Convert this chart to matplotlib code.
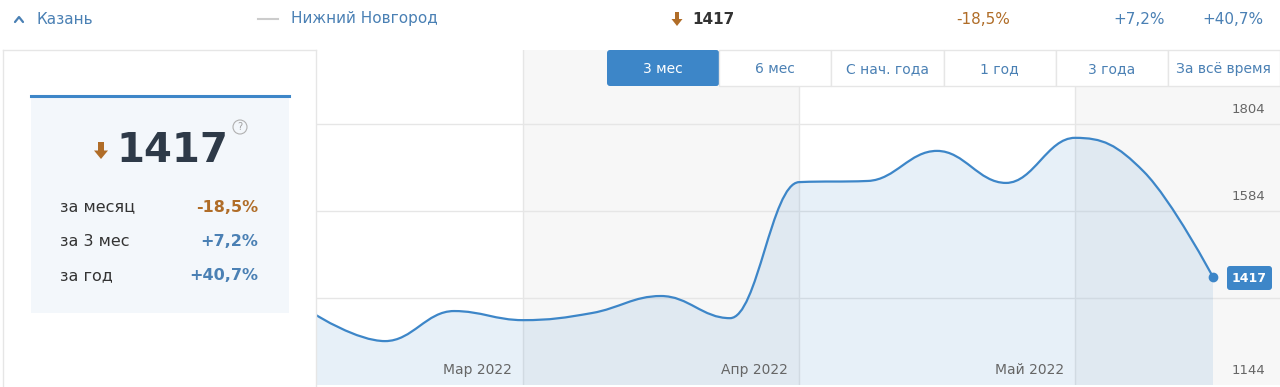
import numpy as np
import matplotlib
matplotlib.use('Agg')
import matplotlib.pyplot as plt
from matplotlib.path import Path
from matplotlib.patches import PathPatch, Rectangle, FancyBboxPatch, Polygon, Circle

plt.rcParams['font.family'] = ['DejaVu Sans']

# data: points are placed four per month, month labels at index of month start
values = [1321, 1255, 1331, 1308, 1326, 1369, 1313, 1657, 1660, 1736, 1655, 1769, 1683, 1417]
month_starts = [3, 7, 11]
month_labels = ['Мар 2022', 'Апр 2022', 'Май 2022']
y_ticks = [1144, 1364, 1584, 1804]
y_tick_labels = ['1144', '', '1584', '1804']

current = '1417'
stat_names = ['за месяц', 'за 3 мес', 'за год']
stat_values = ['-18,5%', '+7,2%', '+40,7%']
buttons = ['3 мес', '6 мес', 'С нач. года', '1 год', '3 года', 'За всё время']

BLUE = '#3d86c8'
TEXT_BLUE = '#4a80b4'
BROWN = '#b06d28'
DARK = '#2e3a48'
GRID = '#e6e6e6'


def spline_path(xs, ys, smoothing=1.5):
    # highcharts-like spline: cubic bezier with control points per point
    n = len(xs)
    denom = smoothing + 1
    left = [(xs[i], ys[i]) for i in range(n)]
    right = [(xs[i], ys[i]) for i in range(n)]
    for i in range(1, n - 1):
        px, py = xs[i], ys[i]
        lx, ly = xs[i - 1], ys[i - 1]
        nx, ny = xs[i + 1], ys[i + 1]
        lcx = (smoothing * px + lx) / denom
        lcy = (smoothing * py + ly) / denom
        rcx = (smoothing * px + nx) / denom
        rcy = (smoothing * py + ny) / denom
        if rcx != lcx:
            corr = ((rcy - lcy) * (rcx - px)) / (rcx - lcx) + py - rcy
            lcy += corr
            rcy += corr
        if lcy > ly and lcy > py:
            lcy = max(ly, py); rcy = 2 * py - lcy
        elif lcy < ly and lcy < py:
            lcy = min(ly, py); rcy = 2 * py - lcy
        if rcy > ny and rcy > py:
            rcy = max(ny, py); lcy = 2 * py - rcy
        elif rcy < ny and rcy < py:
            rcy = min(ny, py); lcy = 2 * py - rcy
        left[i] = (lcx, lcy)
        right[i] = (rcx, rcy)
    verts = [(xs[0], ys[0])]
    codes = [Path.MOVETO]
    for i in range(1, n):
        verts += [right[i - 1], left[i], (xs[i], ys[i])]
        codes += [Path.CURVE4] * 3
    return verts, codes


W, H = 1280, 387
fig = plt.figure(figsize=(W / 100, H / 100), dpi=100)
fig.patch.set_facecolor('white')

###########################################################################
# chart
###########################################################################
ymin = 1144
ymax = ymin + (385 - 50) * 220 / 87
xmax = (W - 316) / 69
ax = fig.add_axes([316 / W, (H - 385) / H, (W - 316) / W, (385 - 50) / H])
ax.set_xlim(0, xmax)
ax.set_ylim(ymin, ymax)
ax.set_facecolor('white')
for s in ax.spines.values():
    s.set_visible(False)
ax.set_xticks([])
ax.set_yticks([])

ax.axvspan(month_starts[0], month_starts[1], color='#f7f7f7', lw=0, zorder=0)
ax.axvspan(month_starts[2], xmax, color='#f7f7f7', lw=0, zorder=0)
for m in month_starts:
    ax.axvline(m, color=GRID, lw=1, zorder=1)
for t in y_ticks[1:]:
    ax.axhline(t, color=GRID, lw=1, zorder=1)

xs = list(range(len(values)))
verts, codes = spline_path(xs, values)
fill_verts = verts + [(xs[-1], ymin - 50), (xs[0], ymin - 50), verts[0]]
fill_codes = codes + [Path.LINETO, Path.LINETO, Path.CLOSEPOLY]
ax.add_patch(PathPatch(Path(fill_verts, fill_codes), facecolor=BLUE, alpha=0.12, lw=0, zorder=2))
ax.add_patch(PathPatch(Path(verts, codes), facecolor='none', edgecolor=BLUE, lw=1.6, zorder=3,
                       capstyle='round', joinstyle='round'))
ax.plot(xs[-1], values[-1], 'o', color=BLUE, ms=6, zorder=4)

ytr = ax.get_yaxis_transform()
for t, lab in zip(y_ticks, y_tick_labels):
    if lab:
        ax.text((1265 - 316) / (W - 316), t + 15 * 220 / 87, lab, transform=ytr,
                ha='right', va='center', fontsize=9.5, color='#666666', zorder=5)
for m, lab in zip(month_starts, month_labels):
    ax.text(m - 11 / 69, ymin + 15 * 220 / 87, lab, ha='right', va='center',
            fontsize=10, color='#666666', zorder=5)

###########################################################################
# overlay in pixel coordinates
###########################################################################
ov = fig.add_axes([0, 0, 1, 1], zorder=10)
ov.set_xlim(0, W)
ov.set_ylim(H, 0)
ov.axis('off')
ov.patch.set_alpha(0)

# header row
ov.plot([15, 19, 23], [22, 17, 22], color=TEXT_BLUE, lw=1.6, solid_capstyle='round')
ov.text(36, 19, 'Казань', fontsize=11, color=TEXT_BLUE, va='center')
ov.plot([258, 278], [19, 19], color='#cccccc', lw=1.5)
ov.text(291, 19, 'Нижний Новгород', fontsize=11, color=TEXT_BLUE, va='center')


def down_arrow(cx, top, w, h, color):
    sw = w * 0.45
    shaft_h = h * 0.5
    ov.add_patch(Rectangle((cx - sw / 2, top), sw, shaft_h, color=color, lw=0))
    ov.add_patch(Polygon([(cx - w / 2, top + shaft_h), (cx + w / 2, top + shaft_h), (cx, top + h)],
                         closed=True, color=color, lw=0))


down_arrow(677, 12, 11, 14, BROWN)
ov.text(692, 19, current, fontsize=11, color='#333333', fontweight='bold', va='center')
ov.text(983, 19, stat_values[0], fontsize=11, color=BROWN, va='center', ha='center')
ov.text(1139, 19, stat_values[1], fontsize=11, color=TEXT_BLUE, va='center', ha='center')
ov.text(1233, 19, stat_values[2], fontsize=11, color=TEXT_BLUE, va='center', ha='center')

# container borders
ov.plot([3, 3], [50, H], color=GRID, lw=1)
ov.plot([3, 316], [50, 50], color=GRID, lw=1)
ov.plot([316, 316], [50, H], color=GRID, lw=1)

# left card
ov.add_patch(Rectangle((31, 96), 258, 217, facecolor='#f3f7fb', lw=0))
ov.plot([31, 289], [96, 96], color=BLUE, lw=2.2)
down_arrow(101, 142, 14, 17, BROWN)
ov.text(172, 151, current, fontsize=29, fontweight='bold', color=DARK, ha='center', va='center')
ov.add_patch(Circle((240, 127), 7, facecolor='none', edgecolor='#b0b0b0', lw=0.8))
ov.text(240, 127.5, '?', fontsize=7, color='#a0a0a0', ha='center', va='center')
for i, (name, val) in enumerate(zip(stat_names, stat_values)):
    y = 207 + i * 34.5
    ov.text(60, y, name, fontsize=11.5, color='#333333', va='center')
    ov.text(258, y, val, fontsize=11.5, fontweight='bold', va='center', ha='right',
            color=BROWN if val.startswith('-') else TEXT_BLUE)

# range buttons
bx = 607
bw = (W - 607) / len(buttons)
for i, lab in enumerate(buttons):
    x0 = bx + i * bw
    if i == 0:
        ov.add_patch(FancyBboxPatch((x0, 50), bw, 36, boxstyle='round,pad=0,rounding_size=3',
                                    facecolor=BLUE, edgecolor='none'))
        color = 'white'
    else:
        ov.add_patch(Rectangle((x0, 50), bw, 36, facecolor='white', edgecolor=GRID, lw=1))
        color = TEXT_BLUE
    ov.text(x0 + bw / 2, 69, lab, fontsize=10, color=color, ha='center', va='center')

# value badge
ov.add_patch(FancyBboxPatch((1227, 266), 45, 24, boxstyle='round,pad=0,rounding_size=3',
                            facecolor=BLUE, edgecolor='none'))
ov.text(1249.5, 278.5, current, fontsize=9, fontweight='bold', color='white', ha='center', va='center')

fig.savefig('out.png', dpi=100)
